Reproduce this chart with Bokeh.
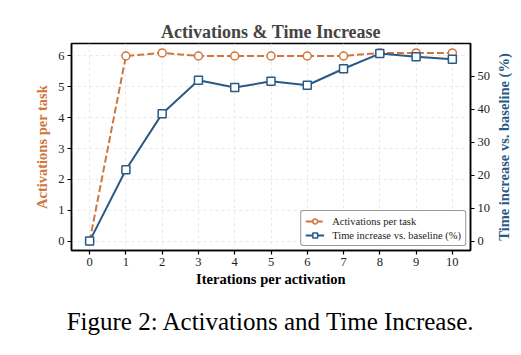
from bokeh.plotting import figure
from bokeh.layouts import row
from bokeh.models import Range1d, LinearAxis, FixedTicker, Title, Legend, LegendItem
from bokeh.embed import file_html
from bokeh.resources import INLINE

iterations = [0, 1, 2, 3, 4, 5, 6, 7, 8, 9, 10]
activations = [0.0, 6.0, 6.1, 6.0, 6.0, 6.0, 6.0, 6.0, 6.1, 6.1, 6.1]
time_increase = [0.0, 21.6, 38.6, 48.7, 46.5, 48.4, 47.2, 52.2, 56.8, 55.8, 55.1]
x_ticks = [0, 1, 2, 3, 4, 5, 6, 7, 8, 9, 10]
left_ticks = [0, 1, 2, 3, 4, 5, 6]
right_ticks = [0, 10, 20, 30, 40, 50]

ORANGE = "#d0763a"
BLUE = "#285a85"
FONT = "Liberation Serif"

p = figure(width=493, height=355, output_backend="svg", toolbar_location=None,
           x_range=Range1d(-0.5, 10.5), y_range=Range1d(-0.305, 6.405),
           min_border_left=71, min_border_right=20, min_border_top=43, min_border_bottom=105)
p.extra_y_ranges = {"pct": Range1d(-2.85, 59.85)}

p.background_fill_color = "white"
p.border_fill_color = "white"
p.outline_line_color = "black"
p.outline_line_width = 1.5

p.title.text = "Activations & Time Increase"
p.title.align = "center"
p.title.text_font = FONT
p.title.text_font_size = "18px"
p.title.text_font_style = "bold"
p.title.standoff = 3

# grid
for g in (p.xgrid, p.ygrid):
    g.grid_line_color = "#e3e3e3"
    g.grid_line_dash = "3 3"
    g.grid_line_width = 0.8
p.xgrid.ticker = FixedTicker(ticks=x_ticks)
p.ygrid.ticker = FixedTicker(ticks=left_ticks)

def style_axis(ax):
    ax.major_label_text_font = FONT
    ax.major_label_text_font_size = "12.5px"
    ax.major_label_text_color = "#222222"
    ax.axis_label_text_font = FONT
    ax.axis_label_text_font_size = "14.5px"
    ax.axis_label_text_font_style = "bold"
    ax.major_tick_in = 0
    ax.major_tick_out = 4
    ax.major_tick_line_width = 1.2
    ax.minor_tick_line_color = None
    ax.axis_line_color = "black"
    ax.axis_line_width = 1.5
    ax.major_label_standoff = 3

xa = p.xaxis[0]
xa.ticker = FixedTicker(ticks=x_ticks)
xa.axis_label = "Iterations per activation"
xa.axis_label_text_color = "black"
style_axis(xa)
xa.axis_label_standoff = 2

ya = p.yaxis[0]
ya.ticker = FixedTicker(ticks=left_ticks)
ya.axis_label = "Activations per task"
ya.axis_label_text_color = ORANGE
style_axis(ya)
ya.axis_label_standoff = 5

ra = LinearAxis(y_range_name="pct", ticker=FixedTicker(ticks=right_ticks))
style_axis(ra)
p.add_layout(ra, "right")

l1 = p.line(iterations, activations, line_color=ORANGE, line_width=2, line_dash="7 3")
s1 = p.scatter(iterations, activations, marker="circle", size=8, fill_color="white",
               line_color=ORANGE, line_width=1.5)
l2 = p.line(iterations, time_increase, y_range_name="pct", line_color=BLUE, line_width=2)
s2 = p.scatter(iterations, time_increase, y_range_name="pct", marker="square", size=8,
               fill_color="white", line_color=BLUE, line_width=1.5)

legend = Legend(items=[LegendItem(label="Activations per task", renderers=[l1, s1]),
                       LegendItem(label="Time increase vs. baseline (%)", renderers=[l2, s2])],
                location="bottom_right")
legend.label_text_font = FONT
legend.label_text_font_size = "10.5px"
legend.label_text_color = "#222222"
legend.glyph_width = 19
legend.glyph_height = 12
legend.label_height = 12
legend.spacing = 2
legend.padding = 4
legend.margin = 4
legend.border_line_color = "#333333"
legend.border_line_width = 1
legend.border_radius = 3
legend.background_fill_alpha = 1.0
legend.label_standoff = 8
p.add_layout(legend, "center")

cap = Title(text="Figure 2: Activations and Time Increase.", align="center",
            text_font=FONT, text_font_size="25px", text_font_style="normal",
            text_color="black", standoff=33)
p.add_layout(cap, "below")

# narrow companion figure carrying the right-hand axis title (reads bottom-to-top)
q = figure(width=28, height=355, output_backend="svg", toolbar_location=None,
           x_axis_type=None, y_axis_type=None,
           min_border_left=0, min_border_right=0, min_border_top=43, min_border_bottom=105)
q.outline_line_color = None
q.background_fill_color = "white"
q.border_fill_color = "white"
q.grid.visible = False
q.title = None
side_title = Title(text="Time increase vs. baseline (%)", align="center",
                   text_font=FONT, text_font_size="14.5px", text_font_style="bold",
                   text_color=BLUE, standoff=0, offset=0)
q.add_layout(side_title, "left")

layout = row(p, q)
open("out.html", "w").write(file_html(layout, INLINE))
